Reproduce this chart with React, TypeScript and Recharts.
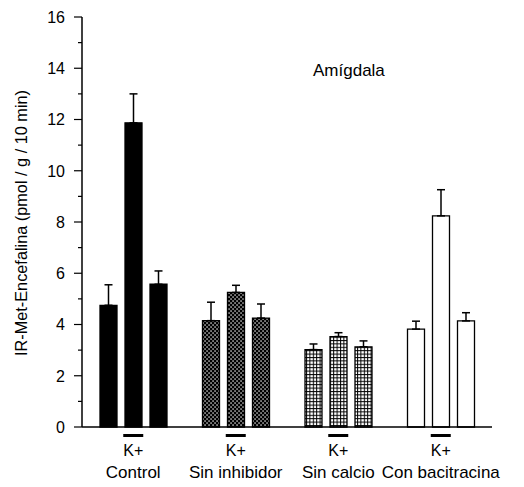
import { BarChart, Bar, XAxis, YAxis, ErrorBar, Cell } from "recharts"

const categories = ["Control", "Sin inhibidor", "Sin calcio", "Con bacitracina"]
const basal = [4.75, 4.15, 3.02, 3.82]
const kPlus = [11.87, 5.25, 3.53, 8.24]
const post = [5.57, 4.25, 3.13, 4.14]
const basalErr = [0.8, 0.72, 0.22, 0.31]
const kPlusErr = [1.13, 0.28, 0.15, 1.02]
const postErr = [0.52, 0.55, 0.23, 0.32]
const yTicks = [0, 1, 2, 3, 4, 5, 6, 7, 8, 9, 10, 11, 12, 13, 14, 15, 16]

const FILLS = ["#000", "url(#patInhib)", "url(#patCalcio)", "#fff"]
const FONT = "'Liberation Sans', Arial, sans-serif"

const data = categories.map((name, i) => ({
  name,
  basal: basal[i],
  kPlus: kPlus[i],
  post: post[i],
  basalErr: [0, basalErr[i]],
  kPlusErr: [0, kPlusErr[i]],
  postErr: [0, postErr[i]],
}))

const YTick = ({ x, y, payload }: any) => {
  const major = payload.value % 2 === 0
  return (
    <g>
      <line x1={x - (major ? 8 : 4)} x2={x} y1={y} y2={y} stroke="#000" strokeWidth={1.2} />
      {major && (
        <text x={x - 17} y={y} dy={5.8} textAnchor="end" fontSize={16} fontFamily={FONT} fill="#000">
          {payload.value}
        </text>
      )}
    </g>
  )
}

const XTick = ({ x, y, payload }: any) => (
  <g transform={`translate(${x},${y})`}>
    <rect x={-10} y={7} width={20} height={3} fill="#000" />
    <text y={29} textAnchor="middle" fontSize={16} fontFamily={FONT} fill="#000">K+</text>
    <text y={51} textAnchor="middle" fontSize={17} fontFamily={FONT} fill="#000">{payload.value}</text>
  </g>
)

const YLabel = () => (
  <text
    transform="translate(21,223) rotate(-90)"
    textAnchor="middle"
    dominantBaseline="central"
    fontSize={16.3}
    fontFamily={FONT}
    fill="#000"
  >
    IR-Met-Encefalina (pmol / g / 10 min)
  </text>
)

const series = [
  { key: "basal", err: "basalErr" },
  { key: "kPlus", err: "kPlusErr" },
  { key: "post", err: "postErr" },
]

export default function App() {
  return (
    <div style={{ position: "absolute", left: 0, top: 0, width: 524, height: 487, background: "#fff" }}>
      <svg width={0} height={0} style={{ position: "absolute" }}>
        <defs>
          <pattern id="patInhib" width={4} height={4} patternUnits="userSpaceOnUse">
            <rect width={4} height={4} fill="#000" />
            <rect x={0.4} y={0.4} width={1.3} height={1.3} fill="#fff" />
            <rect x={2.4} y={2.4} width={1.3} height={1.3} fill="#fff" />
          </pattern>
          <pattern id="patCalcio" width={3.4} height={3.4} patternUnits="userSpaceOnUse">
            <rect width={3.4} height={3.4} fill="#000" />
            <rect x={1} y={1} width={2.4} height={2.4} fill="#fff" />
          </pattern>
        </defs>
      </svg>
      <div
        style={{
          position: "absolute",
          left: 313,
          top: 61,
          fontFamily: FONT,
          fontSize: 17,
          color: "#000",
        }}
      >
        Amígdala
      </div>
      <BarChart
        width={524}
        height={487}
        data={data}
        margin={{ top: 17, right: 32, left: 0, bottom: 0 }}
        barSize={17}
        barGap={8}
      >
        <XAxis
          dataKey="name"
          axisLine={{ stroke: "#000", strokeWidth: 1.5 }}
          tickLine={false}
          tickSize={0}
          tickMargin={0}
          tick={<XTick />}
          interval={0}
          height={60}
        />
        <YAxis
          domain={[0, 16]}
          ticks={yTicks}
          interval={0}
          axisLine={{ stroke: "#000", strokeWidth: 1.5 }}
          tickLine={false}
          tickSize={0}
          tickMargin={0}
          tick={<YTick />}
          width={82}
          label={{ content: <YLabel /> }}
        />
        {series.map((s) => (
          <Bar key={s.key} dataKey={s.key} stroke="#000" strokeWidth={1.3} isAnimationActive={false}>
            {data.map((d, i) => (
              <Cell key={d.name} fill={FILLS[i]} />
            ))}
            <ErrorBar dataKey={s.err} width={4} stroke="#000" strokeWidth={1.5} direction="y" />
          </Bar>
        ))}
      </BarChart>
    </div>
  )
}
